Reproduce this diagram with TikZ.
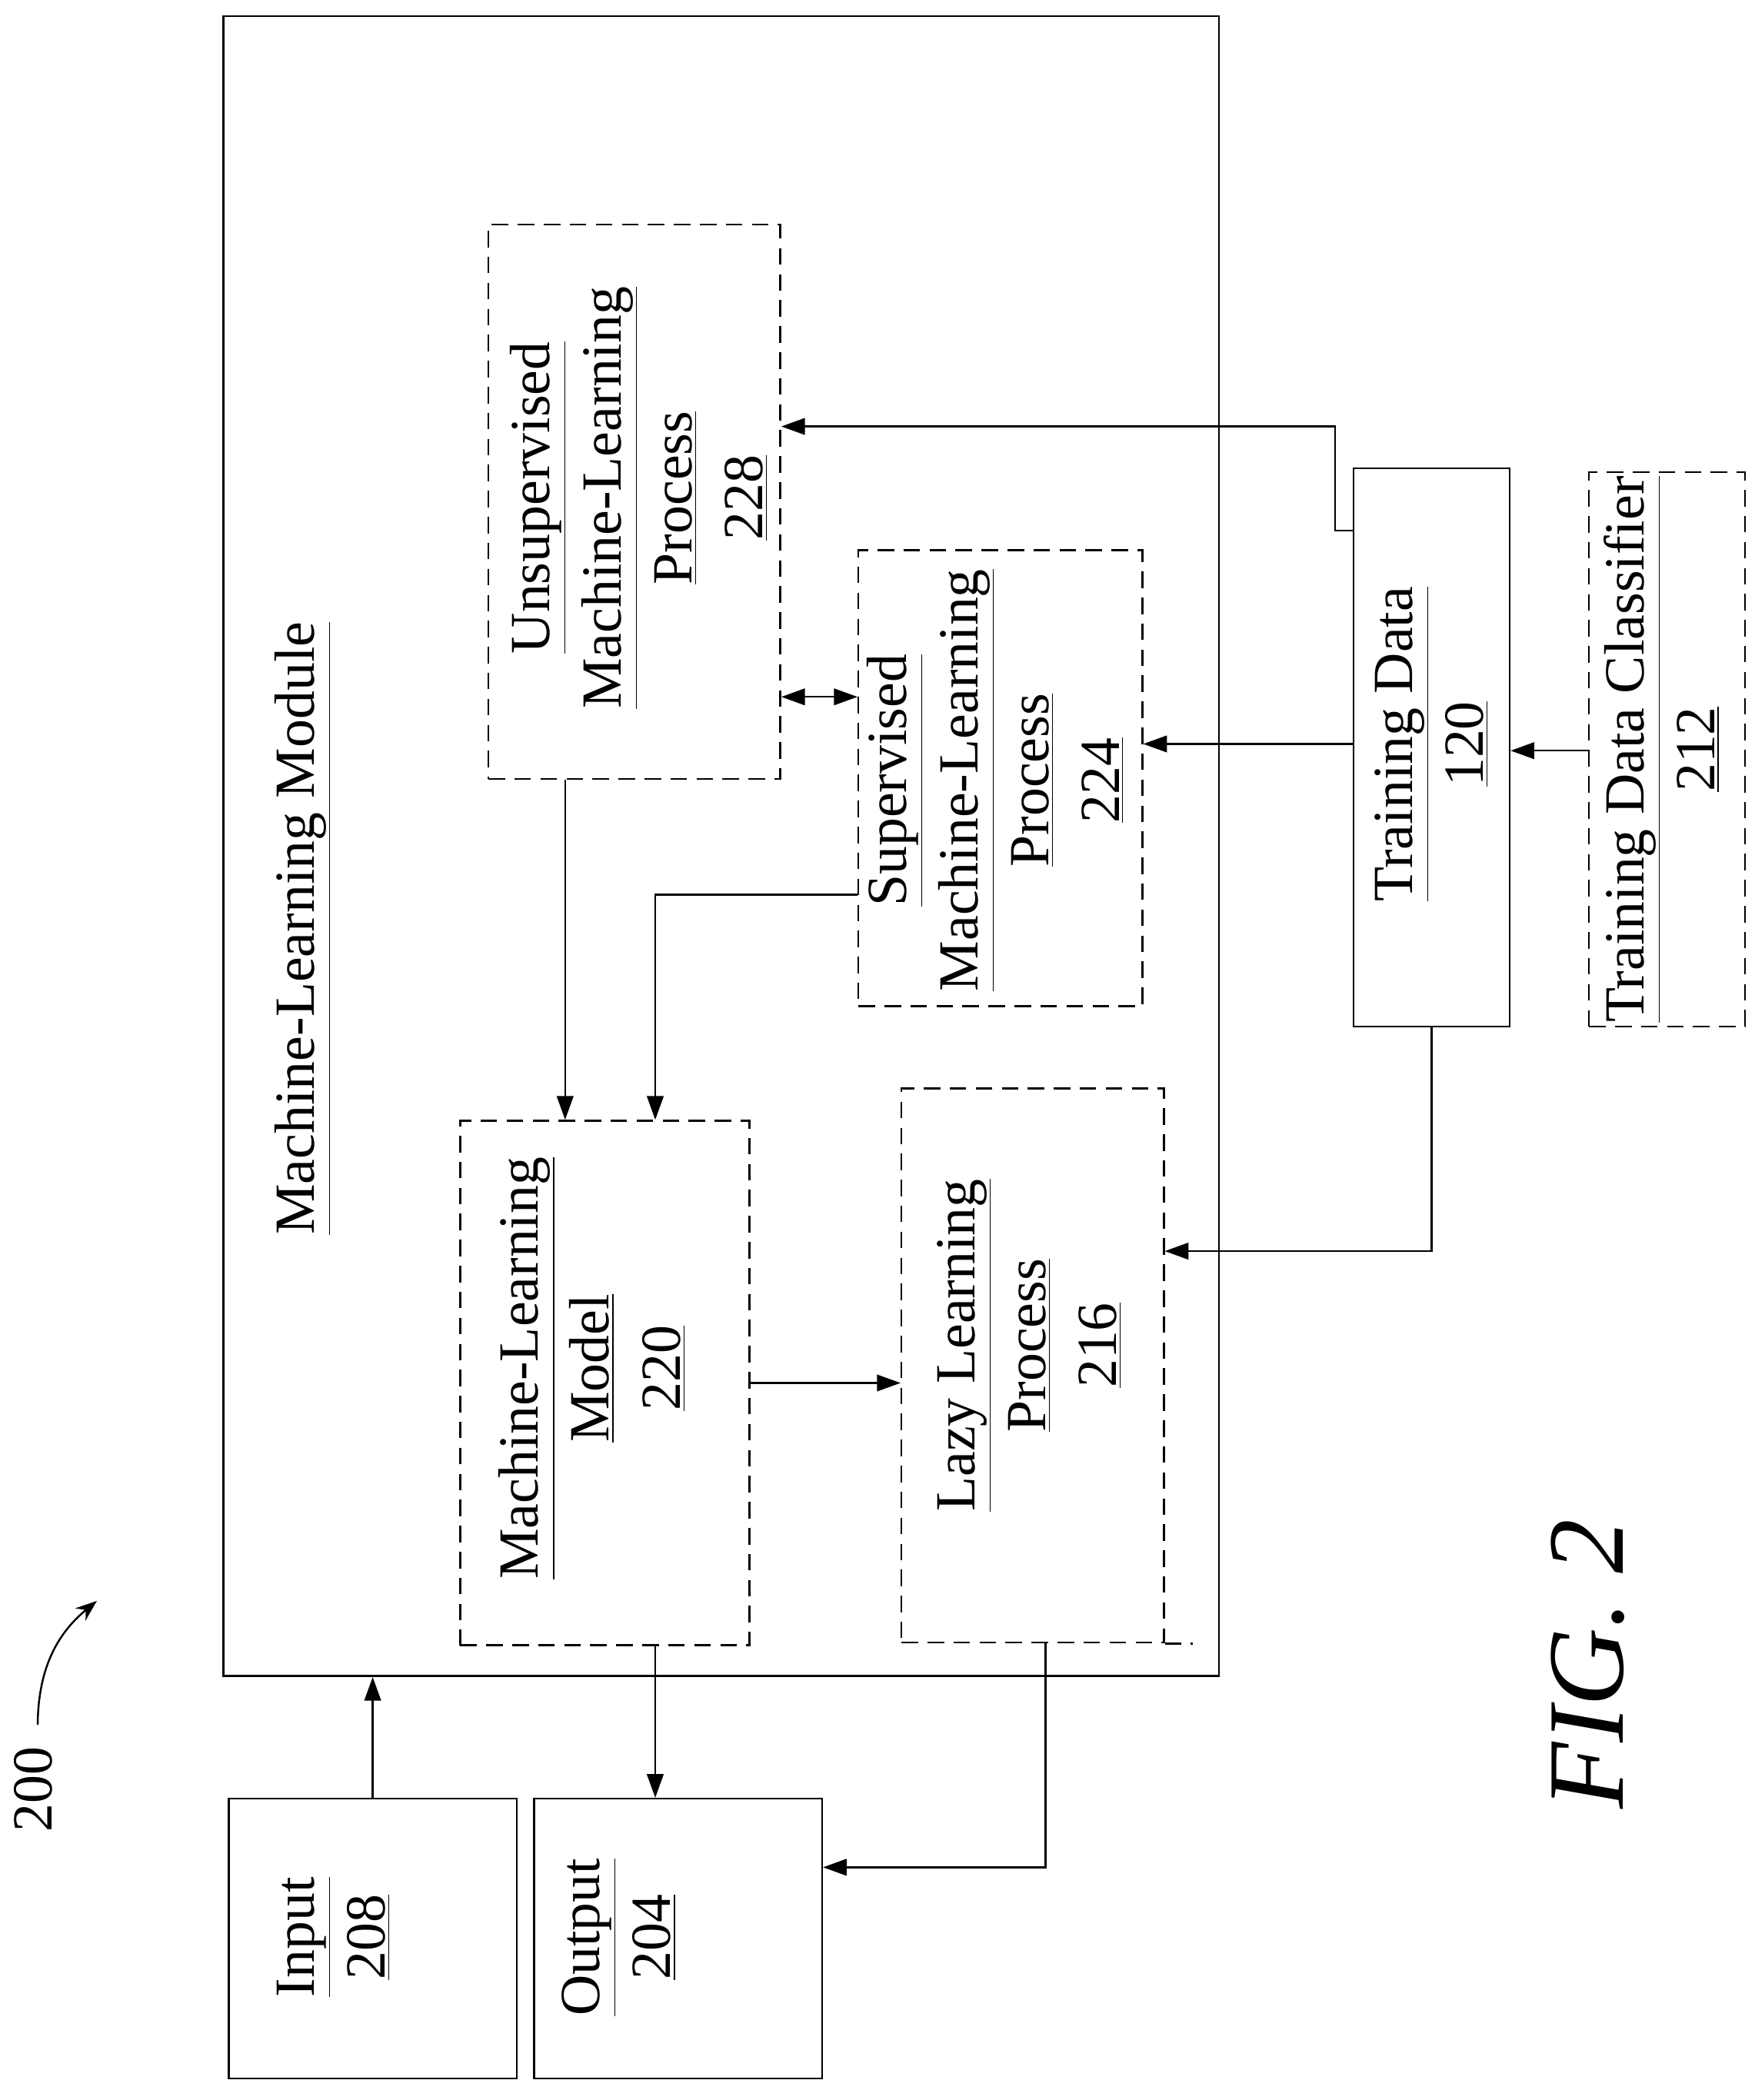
\documentclass[tikz,border=0pt]{standalone}
\usepackage{fontspec}
\setmainfont{Liberation Serif}
\usetikzlibrary{arrows.meta,calc,positioning}

\tikzset{
    box/.style={draw, thick, minimum width=#1},
    dbox/.style={draw, thick, dash pattern=on 7pt off 4pt},
    lbl/.style={rotate=90, align=center, font=\fontsize{24}{30}\selectfont},
    arr/.style={thick, -{Triangle[length=10pt,width=7pt]}},
}

\begin{document}
\begin{tikzpicture}[x=0.02cm, y=-0.02cm]
    \useasboundingbox (0,0) rectangle (1304,1561);

    % module and its processes
    \node[draw, thick, minimum width=14.8cm, minimum height=24.68cm] (mod) at (536,629) {};
    \node[dbox, minimum width=4.34cm, minimum height=8.24cm] (u) at (471.5,373) {};
    \node[dbox, minimum width=4.22cm, minimum height=6.78cm] (s) at (743.5,578.5) {};
    \node[dbox, minimum width=4.3cm, minimum height=7.8cm] (m) at (449.5,1028) {};
    \node[dbox, minimum width=3.9cm, minimum height=8.24cm] (l) at (767.5,1015) {};
    \draw[thick, dash pattern=on 7pt off 4pt] (l.south east) -- ++(21,0);

    % outside the module
    \node[draw, thick, minimum width=2.32cm, minimum height=8.3cm] (t) at (1064,555.5) {};
    \node[dbox, minimum width=2.32cm, minimum height=8.24cm] (c) at (1239,557) {};
    \node[draw, thick, minimum width=4.28cm, minimum height=4.16cm] (in) at (277,1441) {};
    \node[draw, thick, minimum width=4.28cm, minimum height=4.16cm] (out) at (504,1441) {};

    % labels
    \node[lbl] (modl) at (225,690) {\underline{Machine-Learning Module}};
    \node[lbl] (ul) at (475,370) {\underline{Unsupervised}\\\underline{Machine-Learning}\\\underline{Process}\\\underline{228}};
    \node[lbl] (sl) at (740,580) {\underline{Supervised}\\\underline{Machine-Learning}\\\underline{Process}\\\underline{224}};
    \node[lbl] (ml) at (440,1017) {\underline{Machine-Learning}\\\underline{Model}\\\underline{220}};
    \node[lbl] (ll) at (765,1000) {\underline{Lazy Learning}\\\underline{Process}\\\underline{216}};
    \node[lbl] (tl) at (1064,553) {\underline{Training Data}\\\underline{120}};
    \node[lbl] (cl) at (1235,557) {\underline{Training Data Classifier}\\\underline{212}};
    \node[lbl] (inl) at (248,1440) {\underline{Input}\\\underline{208}};
    \node[lbl] (outl) at (460,1440) {\underline{Output}\\\underline{204}};
    \node[lbl] (num) at (25,1330) {200};
    \node[rotate=90, font=\fontsize{46}{50}\selectfont\itshape] (fig) at (1180,1237) {FIG. 2};

    % connectors
    \coordinate (tip) at (72,1190);
    \draw[thick, -{Stealth[length=9pt]}] (num.east) ++(3,-10) to[bend left=25] (tip);
    \draw[arr] ($(t.north west)+(0,47)$) -- ++(-13,0) |- ($(u.east)+(0,-56)$);
    \draw[arr] (t.west |- 0,553) -- (s.east |- 0,553);
    \draw[arr] (c.west |- 0,558) -- (t.east |- 0,558);
    \draw[arr] (t.south) |- (l.east |- 0,930);
    \draw[thick, {Triangle[length=10pt,width=7pt]}-{Triangle[length=10pt,width=7pt]}] (u.east |- 0,518) -- (s.west |- 0,518);
    \draw[arr] (u.south -| 420,0) -- (m.north -| 420,0);
    \draw[arr] (s.west |- 0,665) -| (m.north -| 487,0);
    \draw[arr] (m.east) -- (l.west |- m.east);
    \draw[arr] (m.south -| 487,0) -- (out.north -| 487,0);
    \draw[arr] (in.north) -- (mod.south -| in.north);
    \draw[arr] (l.south -| 777,0) |- (out.east |- 0,1388);
\end{tikzpicture}
\end{document}
